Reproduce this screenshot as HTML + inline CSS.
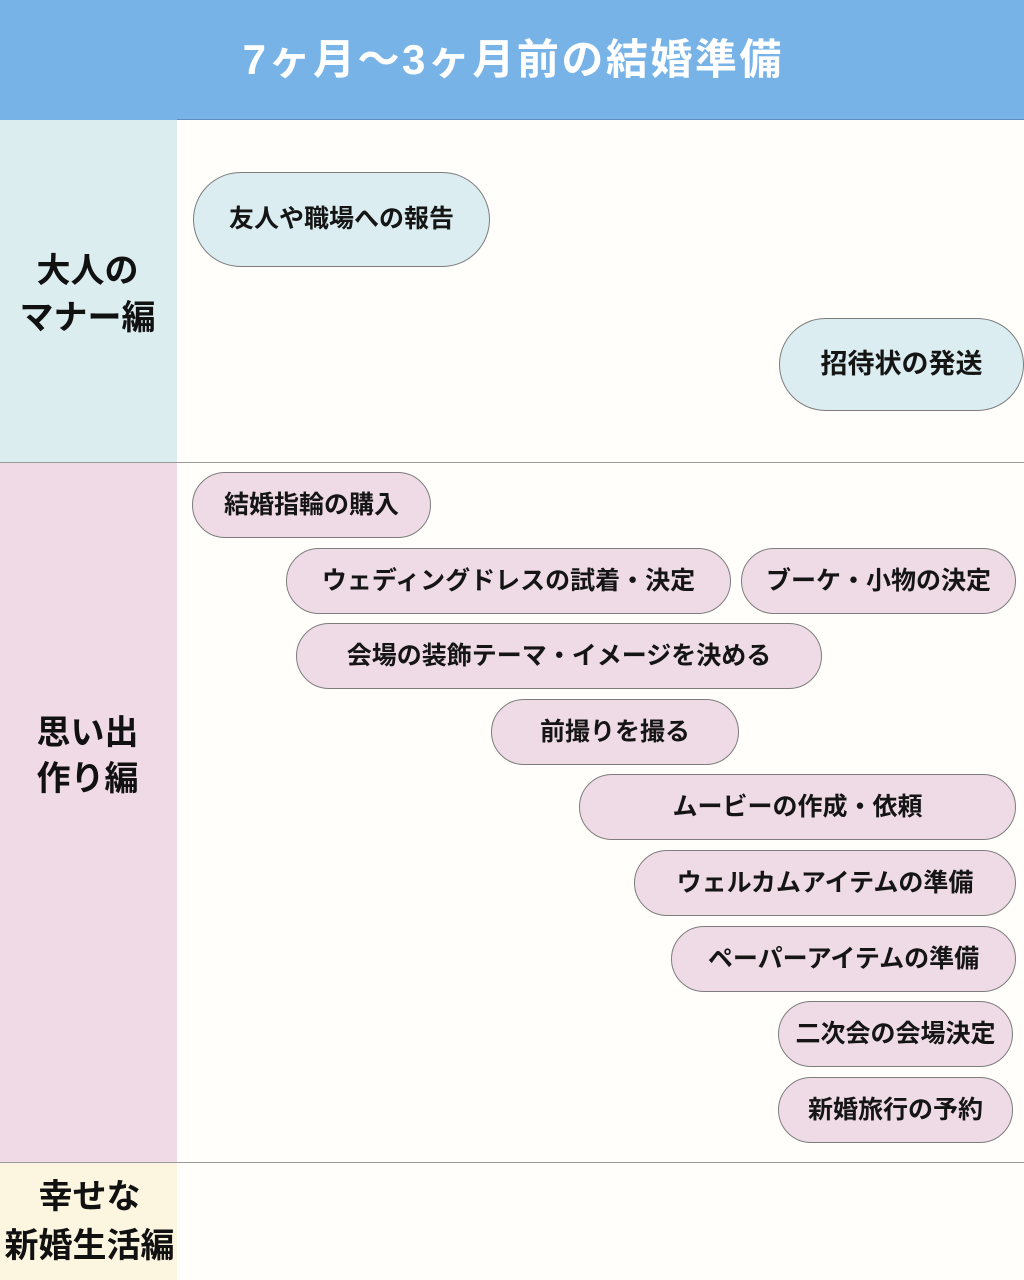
<!DOCTYPE html>
<html>
<head>
<meta charset="utf-8">
<style>
  html, body { margin:0; padding:0; }
  body { width:1024px; height:1280px; position:relative; overflow:hidden; background:#fffefa;
         font-family:"Liberation Sans","Noto Sans CJK JP",sans-serif; }
  .abs { position:absolute; }
  .header { left:0; top:0; width:1024px; height:120px; background:#78b3e8; }
  .hline { left:177px; top:119px; width:847px; height:1px; background:#5f8fc0; }
  .title { left:0; top:35px; width:1024px; height:50px; line-height:50px; text-align:center;
           color:#fff; font-weight:bold; font-size:42px; letter-spacing:2.5px; padding-left:2.5px; box-sizing:border-box; }
  .sec1 { left:0; top:120px; width:177px; height:342px; background:#dcedf0; }
  .sec2 { left:0; top:463px; width:177px; height:699px; background:#efdae6; }
  .sec3 { left:0; top:1163px; width:177px; height:117px; background:#fcf6e1; }
  .div { left:0; width:1024px; height:1px; background:#9a9a9a; }
  .lab { width:177px; text-align:center; font-weight:bold; font-size:34px; line-height:40px; height:40px; color:#111; white-space:nowrap; }
  .pill { display:flex; align-items:center; justify-content:center; box-sizing:border-box;
          border:1px solid #7d7d7d; border-radius:40px; font-weight:bold; font-size:25px; color:#151515;
          white-space:nowrap; line-height:1; }
  .cy { background:#dbedf0; border-radius:48px; }
  .pk { background:#efdbe6; border-radius:33px; }
</style>
</head>
<body>
  <div class="abs header"></div>
  <div class="abs hline"></div>
  <div class="abs title">7ヶ月〜3ヶ月前の結婚準備</div>

  <div class="abs sec1"></div>
  <div class="abs sec2"></div>
  <div class="abs sec3"></div>
  <div class="abs div" style="top:462px;"></div>
  <div class="abs div" style="top:1162px;"></div>

  <div class="abs lab" style="left:-1px; top:251px;">大人の</div>
  <div class="abs lab" style="left:-1px; top:298px;">マナー編</div>
  <div class="abs lab" style="left:-1px; top:713px;">思い出</div>
  <div class="abs lab" style="left:-1px; top:759px;">作り編</div>
  <div class="abs lab" style="left:1px; top:1177px;">幸せな</div>
  <div class="abs lab" style="left:1px; top:1226px;">新婚生活編</div>

  <div class="abs pill cy" style="left:193px; top:172px; width:297px; height:95px;">友人や職場への報告</div>
  <div class="abs pill cy" style="left:779px; top:318px; width:245px; height:93px; font-size:27px;">招待状の発送</div>

  <div class="abs pill pk" style="left:192px; top:472px; width:239px; height:66px;">結婚指輪の購入</div>
  <div class="abs pill pk" style="left:286px; top:548px; width:445px; height:66px;">ウェディングドレスの試着・決定</div>
  <div class="abs pill pk" style="left:741px; top:548px; width:275px; height:66px;">ブーケ・小物の決定</div>
  <div class="abs pill pk" style="left:296px; top:623px; width:526px; height:66px;">会場の装飾テーマ・イメージを決める</div>
  <div class="abs pill pk" style="left:491px; top:699px; width:248px; height:66px;">前撮りを撮る</div>
  <div class="abs pill pk" style="left:579px; top:774px; width:437px; height:66px;">ムービーの作成・依頼</div>
  <div class="abs pill pk" style="left:634px; top:850px; width:382px; height:66px;">ウェルカムアイテムの準備</div>
  <div class="abs pill pk" style="left:671px; top:926px; width:345px; height:66px;">ペーパーアイテムの準備</div>
  <div class="abs pill pk" style="left:778px; top:1001px; width:235px; height:66px;">二次会の会場決定</div>
  <div class="abs pill pk" style="left:778px; top:1077px; width:235px; height:66px;">新婚旅行の予約</div>
</body>
</html>
